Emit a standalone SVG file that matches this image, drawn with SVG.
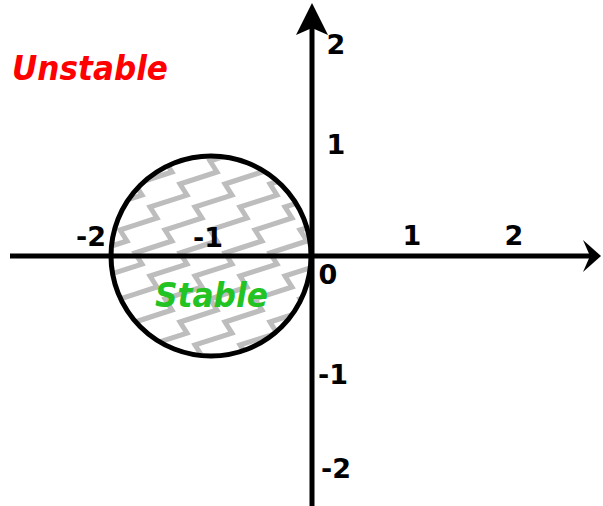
<svg xmlns="http://www.w3.org/2000/svg" width="603" height="506" viewBox="0 0 603 506">
  <style>
    .ax { stroke: #000; stroke-width: 5; fill: none; }
    .num { font-family: "DejaVu Sans", "Liberation Sans", sans-serif; font-weight: bold; font-size: 27px; fill: #000; text-anchor: middle; }
    .big { font-family: "DejaVu Sans", "Liberation Sans", sans-serif; font-weight: bold; font-style: italic; font-size: 33px; }
  </style>
  <defs>
    <pattern id="zz" patternUnits="userSpaceOnUse" width="45" height="69" x="0" y="0">
      <g fill="none" stroke="#bdbdbd" stroke-width="5" stroke-linejoin="miter">
        <path id="zs" d="M-90,115 l37,-12 l-7,-11 l37,-12 l-7,-11 l37,-12 l-7,-11 l37,-12 l-7,-11 l37,-12 l-7,-11 l37,-12 l-7,-11 l37,-12 l-7,-11 l37,-12 l-7,-11"/>
        <use href="#zs" transform="translate(-90,0)"/>
        <use href="#zs" transform="translate(-45,0)"/>
        <use href="#zs" transform="translate(45,0)"/>
        <use href="#zs" transform="translate(90,0)"/>
      </g>
    </pattern>
    <clipPath id="cc"><circle cx="211" cy="256" r="100"/></clipPath>
  </defs>

  <g id="stable-region">
    <rect x="100" y="150" width="220" height="220" fill="url(#zz)" clip-path="url(#cc)"/>
    <circle cx="211" cy="256" r="100" class="ax"/>
  </g>

  <g id="connectors">
    <line x1="10" y1="256" x2="590" y2="256" class="ax"/>
    <path d="M601,256 L583,240 L590,256 L583,272 Z" fill="#000"/>
    <line x1="312" y1="506" x2="312" y2="25" class="ax"/>
    <path d="M312,3 L296,35 L312,28 L328,35 Z" fill="#000"/>
  </g>

  <g id="labels">
    <text x="336" y="54" class="num">2</text>
    <text x="336" y="154" class="num">1</text>
    <text x="412" y="245" class="num">1</text>
    <text x="514" y="245" class="num">2</text>
    <text x="91" y="246" class="num">-2</text>
    <text x="208" y="247" class="num">-1</text>
    <text x="328" y="284" class="num">0</text>
    <text x="333" y="384" class="num">-1</text>
    <text x="336" y="478" class="num">-2</text>
    <text x="12" y="80" class="big" fill="#ff0000" textLength="156" lengthAdjust="spacingAndGlyphs">Unstable</text>
    <text x="155" y="307" class="big" fill="#22c322" textLength="113" lengthAdjust="spacingAndGlyphs">Stable</text>
  </g>
</svg>
